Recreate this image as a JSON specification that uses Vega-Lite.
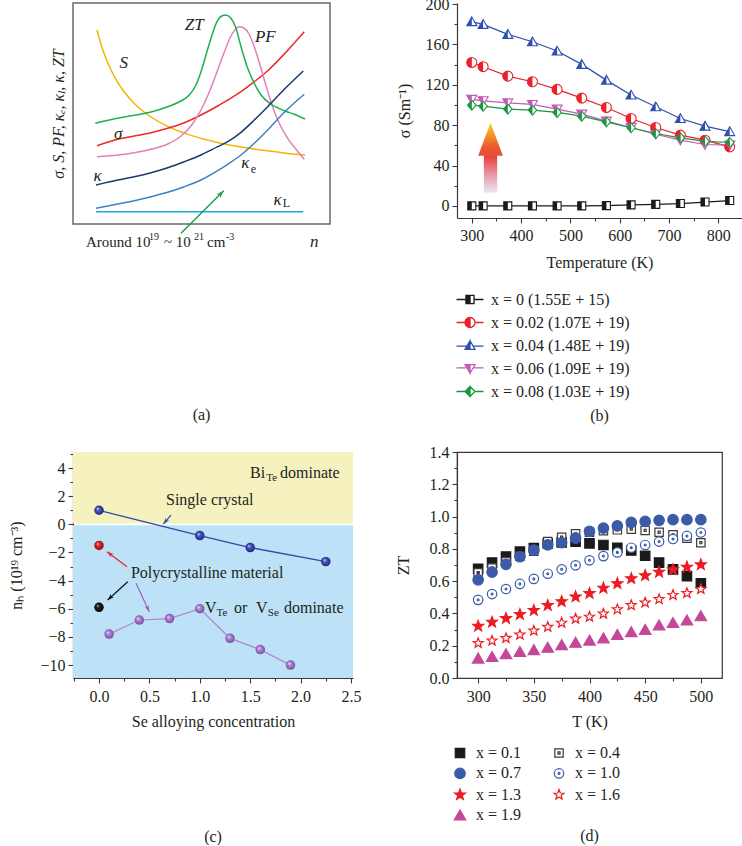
{
"$schema": "https://vega.github.io/schema/vega-lite/v6.json",
"background": "white",
"padding": {"left": 8, "top": -4, "right": 0, "bottom": 0},
"columns": 2,
"spacing": {"row": 228, "column": 104},
"bounds": "flush",
"align": "each",
"resolve": {"scale": {"color": "independent", "fill": "independent", "stroke": "independent", "shape": "independent"}, "legend": {"color": "independent", "fill": "independent", "stroke": "independent", "shape": "independent"}},
"config": {
 "font": "Liberation Serif",
 "view": {"stroke": null},
 "axis": {"labelFont": "Liberation Serif", "titleFont": "Liberation Serif", "labelFontSize": 16, "titleFontSize": 16, "titleFontWeight": "normal", "labelColor": "#231f20", "titleColor": "#231f20", "domainColor": "#3a3a3a", "tickColor": "#3a3a3a", "grid": false, "tickSize": 5, "labelPadding": 3, "domainWidth": 1.2, "tickWidth": 1.1},
 "legend": {"labelFont": "Liberation Serif", "labelFontSize": 16, "labelColor": "#231f20", "padding": 0},
 "title": {"font": "Liberation Serif", "fontSize": 16, "fontWeight": "normal", "color": "#231f20"},
 "text": {"font": "Liberation Serif", "fontSize": 16, "color": "#231f20", "baseline": "middle"},
 "point": {"opacity": 1}
},
"datasets": {
 "a_curves": [
  {"c":"S","x":24.0,"y":194.0},{"c":"S","x":28.0,"y":179.8},{"c":"S","x":33.0,"y":165.5},{"c":"S","x":38.0,"y":154.0},{"c":"S","x":44.7,"y":141.7},{"c":"S","x":53.0,"y":129.8},{"c":"S","x":61.3,"y":120.5},{"c":"S","x":78.0,"y":107.0},{"c":"S","x":94.7,"y":97.7},{"c":"S","x":119.7,"y":88.1},{"c":"S","x":144.7,"y":81.5},{"c":"S","x":178.0,"y":75.4},{"c":"S","x":211.3,"y":71.1},{"c":"S","x":232.0,"y":69.0},
  {"c":"σ","x":24.0,"y":78.3},{"c":"σ","x":44.7,"y":84.7},{"c":"σ","x":61.3,"y":88.0},{"c":"σ","x":78.0,"y":91.3},{"c":"σ","x":94.7,"y":95.7},{"c":"σ","x":111.3,"y":101.3},{"c":"σ","x":128.0,"y":109.0},{"c":"σ","x":144.7,"y":118.0},{"c":"σ","x":154.7,"y":124.0},{"c":"σ","x":168.0,"y":132.3},{"c":"σ","x":181.3,"y":142.3},{"c":"σ","x":194.7,"y":153.3},{"c":"σ","x":211.3,"y":170.0},{"c":"σ","x":231.3,"y":192.3},
  {"c":"PF","x":24.0,"y":67.3},{"c":"PF","x":44.7,"y":69.0},{"c":"PF","x":61.3,"y":71.3},{"c":"PF","x":78.0,"y":74.7},{"c":"PF","x":94.7,"y":80.0},{"c":"PF","x":108.0,"y":88.0},{"c":"PF","x":118.0,"y":98.0},{"c":"PF","x":128.0,"y":114.0},{"c":"PF","x":136.3,"y":132.0},{"c":"PF","x":144.7,"y":154.0},{"c":"PF","x":151.3,"y":172.0},{"c":"PF","x":158.0,"y":188.0},{"c":"PF","x":163.0,"y":195.5},{"c":"PF","x":166.3,"y":197.3},{"c":"PF","x":171.0,"y":196.0},{"c":"PF","x":176.0,"y":190.0},{"c":"PF","x":181.0,"y":178.0},{"c":"PF","x":188.0,"y":155.7},{"c":"PF","x":196.3,"y":127.3},{"c":"PF","x":204.7,"y":104.0},{"c":"PF","x":214.7,"y":85.7},{"c":"PF","x":223.0,"y":74.7},{"c":"PF","x":231.3,"y":64.7},
  {"c":"ZT","x":22.3,"y":100.7},{"c":"ZT","x":44.7,"y":105.7},{"c":"ZT","x":61.3,"y":108.7},{"c":"ZT","x":78.0,"y":112.0},{"c":"ZT","x":94.7,"y":117.3},{"c":"ZT","x":108.0,"y":123.0},{"c":"ZT","x":116.3,"y":129.0},{"c":"ZT","x":123.0,"y":139.0},{"c":"ZT","x":128.0,"y":152.3},{"c":"ZT","x":133.0,"y":169.0},{"c":"ZT","x":138.0,"y":185.7},{"c":"ZT","x":144.0,"y":202.3},{"c":"ZT","x":148.7,"y":208.0},{"c":"ZT","x":153.0,"y":209.0},{"c":"ZT","x":158.0,"y":205.7},{"c":"ZT","x":163.0,"y":195.7},{"c":"ZT","x":168.0,"y":177.3},{"c":"ZT","x":174.7,"y":155.7},{"c":"ZT","x":181.3,"y":140.7},{"c":"ZT","x":188.0,"y":129.0},{"c":"ZT","x":198.0,"y":120.0},{"c":"ZT","x":211.3,"y":113.3},{"c":"ZT","x":221.3,"y":109.7},{"c":"ZT","x":232.0,"y":105.0},
  {"c":"κ","x":23.0,"y":39.0},{"c":"κ","x":44.7,"y":44.0},{"c":"κ","x":61.3,"y":47.3},{"c":"κ","x":78.0,"y":51.3},{"c":"κ","x":94.7,"y":56.3},{"c":"κ","x":111.3,"y":62.3},{"c":"κ","x":128.0,"y":69.0},{"c":"κ","x":144.7,"y":77.3},{"c":"κ","x":154.7,"y":82.3},{"c":"κ","x":168.0,"y":91.7},{"c":"κ","x":181.3,"y":104.0},{"c":"κ","x":194.7,"y":117.3},{"c":"κ","x":211.3,"y":134.7},{"c":"κ","x":230.3,"y":153.0},
  {"c":"κe","x":23.0,"y":15.7},{"c":"κe","x":44.7,"y":20.0},{"c":"κe","x":61.3,"y":23.3},{"c":"κe","x":78.0,"y":27.3},{"c":"κe","x":94.7,"y":31.7},{"c":"κe","x":111.3,"y":37.3},{"c":"κe","x":128.0,"y":44.0},{"c":"κe","x":144.7,"y":53.3},{"c":"κe","x":154.7,"y":59.7},{"c":"κe","x":168.0,"y":69.0},{"c":"κe","x":181.3,"y":80.7},{"c":"κe","x":194.7,"y":94.0},{"c":"κe","x":211.3,"y":111.7},{"c":"κe","x":231.3,"y":129.7},
  {"c":"κL","x":23.0,"y":12.3},{"c":"κL","x":230.3,"y":12.3}
 ],
 "a_text": [
  {"t":"ZT","x":121.3,"y":199,"r":"lab"},{"t":"PF","x":192.3,"y":186.7,"r":"lab"},{"t":"S","x":50.7,"y":160.7,"r":"lab"},{"t":"σ","x":45.3,"y":89.7,"r":"lab"},{"t":"κ","x":24.7,"y":48,"r":"lab"},{"t":"κ","x":172.3,"y":60.7,"r":"lab"},{"t":"κ","x":204.7,"y":24,"r":"lab"},{"t":"n","x":241.3,"y":-17.7,"r":"lab"},
  {"t":"e","x":180.3,"y":55,"r":"sub"},{"t":"L","x":213.5,"y":20.7,"r":"sub"},
  {"t":"Around 10","x":13,"y":-17.7,"r":"cap"},{"t":"~ 10","x":91,"y":-17.7,"r":"cap"},{"t":"cm","x":134,"y":-17.7,"r":"cap"},
  {"t":"19","x":76,"y":-13,"r":"sup"},{"t":"21","x":121,"y":-13,"r":"sup"},{"t":"-3","x":153,"y":-13,"r":"sup"}
 ],
 "a_arrow": [{"x":150.7,"y":33.3,"x2":108,"y2":-9.3}],
 "b": [
  {"s":"x = 0 (1.55E + 15)","T":300,"v":0},{"s":"x = 0 (1.55E + 15)","T":323,"v":0},{"s":"x = 0 (1.55E + 15)","T":373,"v":0},{"s":"x = 0 (1.55E + 15)","T":423,"v":0},{"s":"x = 0 (1.55E + 15)","T":473,"v":0},{"s":"x = 0 (1.55E + 15)","T":523,"v":0},{"s":"x = 0 (1.55E + 15)","T":573,"v":0.3},{"s":"x = 0 (1.55E + 15)","T":623,"v":1.0},{"s":"x = 0 (1.55E + 15)","T":673,"v":1.5},{"s":"x = 0 (1.55E + 15)","T":723,"v":2.3},{"s":"x = 0 (1.55E + 15)","T":773,"v":3.8},{"s":"x = 0 (1.55E + 15)","T":823,"v":5.3},
  {"s":"x = 0.02 (1.07E + 19)","T":300,"v":142.1},{"s":"x = 0.02 (1.07E + 19)","T":323,"v":137.9},{"s":"x = 0.02 (1.07E + 19)","T":373,"v":128.6},{"s":"x = 0.02 (1.07E + 19)","T":423,"v":123.0},{"s":"x = 0.02 (1.07E + 19)","T":473,"v":115.4},{"s":"x = 0.02 (1.07E + 19)","T":523,"v":106.8},{"s":"x = 0.02 (1.07E + 19)","T":573,"v":97.5},{"s":"x = 0.02 (1.07E + 19)","T":623,"v":86.6},{"s":"x = 0.02 (1.07E + 19)","T":673,"v":77.7},{"s":"x = 0.02 (1.07E + 19)","T":723,"v":70.1},{"s":"x = 0.02 (1.07E + 19)","T":773,"v":65.1},{"s":"x = 0.02 (1.07E + 19)","T":823,"v":58.5},
  {"s":"x = 0.04 (1.48E + 19)","T":300,"v":182.5},{"s":"x = 0.04 (1.48E + 19)","T":323,"v":179.8},{"s":"x = 0.04 (1.48E + 19)","T":373,"v":169.9},{"s":"x = 0.04 (1.48E + 19)","T":423,"v":162.6},{"s":"x = 0.04 (1.48E + 19)","T":473,"v":153.4},{"s":"x = 0.04 (1.48E + 19)","T":523,"v":140.2},{"s":"x = 0.04 (1.48E + 19)","T":573,"v":124.6},{"s":"x = 0.04 (1.48E + 19)","T":623,"v":109.8},{"s":"x = 0.04 (1.48E + 19)","T":673,"v":98.2},{"s":"x = 0.04 (1.48E + 19)","T":723,"v":86.6},{"s":"x = 0.04 (1.48E + 19)","T":773,"v":79.0},{"s":"x = 0.04 (1.48E + 19)","T":823,"v":73.6},
  {"s":"x = 0.06 (1.09E + 19)","T":300,"v":105.5},{"s":"x = 0.06 (1.09E + 19)","T":323,"v":104.1},{"s":"x = 0.06 (1.09E + 19)","T":373,"v":102.1},{"s":"x = 0.06 (1.09E + 19)","T":423,"v":100.5},{"s":"x = 0.06 (1.09E + 19)","T":473,"v":95.9},{"s":"x = 0.06 (1.09E + 19)","T":523,"v":90.9},{"s":"x = 0.06 (1.09E + 19)","T":573,"v":84.0},{"s":"x = 0.06 (1.09E + 19)","T":623,"v":77.7},{"s":"x = 0.06 (1.09E + 19)","T":673,"v":71.0},{"s":"x = 0.06 (1.09E + 19)","T":723,"v":65.2},{"s":"x = 0.06 (1.09E + 19)","T":773,"v":60.8},{"s":"x = 0.06 (1.09E + 19)","T":823,"v":60.2},
  {"s":"x = 0.08 (1.03E + 19)","T":300,"v":99.8},{"s":"x = 0.08 (1.03E + 19)","T":323,"v":98.8},{"s":"x = 0.08 (1.03E + 19)","T":373,"v":95.9},{"s":"x = 0.08 (1.03E + 19)","T":423,"v":94.9},{"s":"x = 0.08 (1.03E + 19)","T":473,"v":92.6},{"s":"x = 0.08 (1.03E + 19)","T":523,"v":88.9},{"s":"x = 0.08 (1.03E + 19)","T":573,"v":83.3},{"s":"x = 0.08 (1.03E + 19)","T":623,"v":77.4},{"s":"x = 0.08 (1.03E + 19)","T":673,"v":71.7},{"s":"x = 0.08 (1.03E + 19)","T":723,"v":67.4},{"s":"x = 0.08 (1.03E + 19)","T":773,"v":64.0},{"s":"x = 0.08 (1.03E + 19)","T":823,"v":62.8}
 ],
 "c_bands": [{"b":"Bi","x":-0.258,"x2":2.52,"y":0.06,"y2":5.14},{"b":"V","x":-0.258,"x2":2.52,"y":-10.92,"y2":-0.06}],
 "c_pts": [
  {"g":"single","x":0,"y":1.0},{"g":"single","x":1.0,"y":-0.8},{"g":"single","x":1.5,"y":-1.65},{"g":"single","x":2.25,"y":-2.65},
  {"g":"red","x":0,"y":-1.5},{"g":"black","x":0,"y":-5.9},
  {"g":"poly","x":0.1,"y":-7.8},{"g":"poly","x":0.4,"y":-6.8},{"g":"poly","x":0.7,"y":-6.7},{"g":"poly","x":1.0,"y":-6.0},{"g":"poly","x":1.3,"y":-8.1},{"g":"poly","x":1.6,"y":-8.9},{"g":"poly","x":1.9,"y":-10.0}
 ],
 "c_arrows": [
  {"a":"blue","x":0.638,"y":0.02,"x2":0.714,"y2":0.66},
  {"a":"red","x":0.079,"y":-1.95,"x2":0.278,"y2":-3.01},
  {"a":"black","x":0.086,"y":-5.38,"x2":0.285,"y2":-4.08},
  {"a":"purple","x":0.499,"y":-6.21,"x2":0.367,"y2":-4.19}
 ],
 "c_text": [
  {"t":"Single crystal","x":0.665,"y":1.73,"r":"main"},
  {"t":"Polycrystalline material","x":0.317,"y":-3.46,"r":"main"},
  {"t":"Bi","x":1.498,"y":3.64,"r":"main"},{"t":"Te","x":1.66,"y":3.29,"r":"sub"},{"t":"dominate","x":1.796,"y":3.64,"r":"main"},
  {"t":"V","x":1.052,"y":-5.95,"r":"main"},{"t":"Te","x":1.165,"y":-6.31,"r":"sub"},{"t":"or","x":1.339,"y":-5.95,"r":"main"},{"t":"V","x":1.558,"y":-5.95,"r":"main"},{"t":"Se","x":1.675,"y":-6.31,"r":"sub"},{"t":"dominate","x":1.835,"y":-5.95,"r":"main"}
 ],
 "d": [
  {"s":"x = 0.1","T":300,"zt":0.677},{"s":"x = 0.1","T":312.5,"zt":0.715},{"s":"x = 0.1","T":325,"zt":0.752},{"s":"x = 0.1","T":337.5,"zt":0.783},{"s":"x = 0.1","T":350,"zt":0.805},{"s":"x = 0.1","T":362.5,"zt":0.833},{"s":"x = 0.1","T":375,"zt":0.840},{"s":"x = 0.1","T":387.5,"zt":0.845},{"s":"x = 0.1","T":400,"zt":0.834},{"s":"x = 0.1","T":412.5,"zt":0.824},{"s":"x = 0.1","T":425,"zt":0.807},{"s":"x = 0.1","T":437.5,"zt":0.790},{"s":"x = 0.1","T":450,"zt":0.757},{"s":"x = 0.1","T":462.5,"zt":0.715},{"s":"x = 0.1","T":475,"zt":0.673},{"s":"x = 0.1","T":487.5,"zt":0.631},{"s":"x = 0.1","T":500,"zt":0.587},
  {"s":"x = 0.4","T":300,"zt":0.652},{"s":"x = 0.4","T":312.5,"zt":0.681},{"s":"x = 0.4","T":325,"zt":0.719},{"s":"x = 0.4","T":337.5,"zt":0.755},{"s":"x = 0.4","T":350,"zt":0.786},{"s":"x = 0.4","T":362.5,"zt":0.845},{"s":"x = 0.4","T":375,"zt":0.872},{"s":"x = 0.4","T":387.5,"zt":0.893},{"s":"x = 0.4","T":400,"zt":0.903},{"s":"x = 0.4","T":412.5,"zt":0.912},{"s":"x = 0.4","T":425,"zt":0.918},{"s":"x = 0.4","T":437.5,"zt":0.922},{"s":"x = 0.4","T":450,"zt":0.914},{"s":"x = 0.4","T":462.5,"zt":0.903},{"s":"x = 0.4","T":475,"zt":0.887},{"s":"x = 0.4","T":487.5,"zt":0.866},{"s":"x = 0.4","T":500,"zt":0.838},
  {"s":"x = 0.7","T":300,"zt":0.608},{"s":"x = 0.7","T":312.5,"zt":0.656},{"s":"x = 0.7","T":325,"zt":0.704},{"s":"x = 0.7","T":337.5,"zt":0.751},{"s":"x = 0.7","T":350,"zt":0.793},{"s":"x = 0.7","T":362.5,"zt":0.825},{"s":"x = 0.7","T":375,"zt":0.838},{"s":"x = 0.7","T":387.5,"zt":0.866},{"s":"x = 0.7","T":400,"zt":0.908},{"s":"x = 0.7","T":412.5,"zt":0.929},{"s":"x = 0.7","T":425,"zt":0.943},{"s":"x = 0.7","T":437.5,"zt":0.964},{"s":"x = 0.7","T":450,"zt":0.970},{"s":"x = 0.7","T":462.5,"zt":0.977},{"s":"x = 0.7","T":475,"zt":0.981},{"s":"x = 0.7","T":487.5,"zt":0.981},{"s":"x = 0.7","T":500,"zt":0.981},
  {"s":"x = 1.0","T":300,"zt":0.484},{"s":"x = 1.0","T":312.5,"zt":0.520},{"s":"x = 1.0","T":325,"zt":0.551},{"s":"x = 1.0","T":337.5,"zt":0.583},{"s":"x = 1.0","T":350,"zt":0.614},{"s":"x = 1.0","T":362.5,"zt":0.646},{"s":"x = 1.0","T":375,"zt":0.673},{"s":"x = 1.0","T":387.5,"zt":0.698},{"s":"x = 1.0","T":400,"zt":0.729},{"s":"x = 1.0","T":412.5,"zt":0.755},{"s":"x = 1.0","T":425,"zt":0.778},{"s":"x = 1.0","T":437.5,"zt":0.807},{"s":"x = 1.0","T":450,"zt":0.824},{"s":"x = 1.0","T":462.5,"zt":0.845},{"s":"x = 1.0","T":475,"zt":0.861},{"s":"x = 1.0","T":487.5,"zt":0.880},{"s":"x = 1.0","T":500,"zt":0.901},
  {"s":"x = 1.3","T":300,"zt":0.321},{"s":"x = 1.3","T":312.5,"zt":0.346},{"s":"x = 1.3","T":325,"zt":0.369},{"s":"x = 1.3","T":337.5,"zt":0.394},{"s":"x = 1.3","T":350,"zt":0.419},{"s":"x = 1.3","T":362.5,"zt":0.450},{"s":"x = 1.3","T":375,"zt":0.474},{"s":"x = 1.3","T":387.5,"zt":0.503},{"s":"x = 1.3","T":400,"zt":0.524},{"s":"x = 1.3","T":412.5,"zt":0.557},{"s":"x = 1.3","T":425,"zt":0.585},{"s":"x = 1.3","T":437.5,"zt":0.616},{"s":"x = 1.3","T":450,"zt":0.635},{"s":"x = 1.3","T":462.5,"zt":0.656},{"s":"x = 1.3","T":475,"zt":0.671},{"s":"x = 1.3","T":487.5,"zt":0.687},{"s":"x = 1.3","T":500,"zt":0.702},
  {"s":"x = 1.6","T":300,"zt":0.216},{"s":"x = 1.6","T":312.5,"zt":0.231},{"s":"x = 1.6","T":325,"zt":0.247},{"s":"x = 1.6","T":337.5,"zt":0.268},{"s":"x = 1.6","T":350,"zt":0.293},{"s":"x = 1.6","T":362.5,"zt":0.316},{"s":"x = 1.6","T":375,"zt":0.342},{"s":"x = 1.6","T":387.5,"zt":0.367},{"s":"x = 1.6","T":400,"zt":0.379},{"s":"x = 1.6","T":412.5,"zt":0.398},{"s":"x = 1.6","T":425,"zt":0.425},{"s":"x = 1.6","T":437.5,"zt":0.451},{"s":"x = 1.6","T":450,"zt":0.467},{"s":"x = 1.6","T":462.5,"zt":0.488},{"s":"x = 1.6","T":475,"zt":0.514},{"s":"x = 1.6","T":487.5,"zt":0.526},{"s":"x = 1.6","T":500,"zt":0.551},
  {"s":"x = 1.9","T":300,"zt":0.122},{"s":"x = 1.9","T":312.5,"zt":0.132},{"s":"x = 1.9","T":325,"zt":0.149},{"s":"x = 1.9","T":337.5,"zt":0.163},{"s":"x = 1.9","T":350,"zt":0.174},{"s":"x = 1.9","T":362.5,"zt":0.189},{"s":"x = 1.9","T":375,"zt":0.205},{"s":"x = 1.9","T":387.5,"zt":0.220},{"s":"x = 1.9","T":400,"zt":0.233},{"s":"x = 1.9","T":412.5,"zt":0.247},{"s":"x = 1.9","T":425,"zt":0.268},{"s":"x = 1.9","T":437.5,"zt":0.285},{"s":"x = 1.9","T":450,"zt":0.300},{"s":"x = 1.9","T":462.5,"zt":0.327},{"s":"x = 1.9","T":475,"zt":0.342},{"s":"x = 1.9","T":487.5,"zt":0.358},{"s":"x = 1.9","T":500,"zt":0.384}
 ]
},
"concat": [
 {
  "width": 257, "height": 221,
  "view": {"stroke": "#6a6a6a", "strokeWidth": 1.5},
  "title": {"text": "(a)", "orient": "bottom", "offset": 157, "frame": "group", "anchor": "middle"},
  "encoding": {
   "x": {"field": "x", "type": "quantitative", "scale": {"domain": [0, 257], "nice": false, "zero": false}, "axis": null},
   "y": {"field": "y", "type": "quantitative", "scale": {"domain": [0, 221], "nice": false, "zero": false}, "axis": {"title": "σ, S, PF, κₑ, κₗ, κ, ZT", "titleFontStyle": "italic", "labels": false, "ticks": false, "domain": false, "titlePadding": 7}}
  },
  "layer": [
   {"data": {"name": "a_curves"}, "mark": {"type": "line", "interpolate": "monotone", "strokeWidth": 1.5},
    "encoding": {"color": {"field": "c", "type": "nominal", "scale": {"domain": ["S","σ","PF","ZT","κ","κe","κL"], "range": ["#f5b400","#ec2a26","#e27fb9","#20b04c","#17396d","#3f81c6","#1ba8e8"]}, "legend": null}}},
   {"data": {"values": [{}]}, "mark": {"type": "rule", "color": "#a8d05c", "strokeDash": [6, 4], "strokeWidth": 1.6},
    "encoding": {"x": {"datum": 154, "type": "quantitative", "axis": null}, "y": {"datum": 0, "type": "quantitative", "axis": {"title": "σ, S, PF, κₑ, κₗ, κ, ZT", "titleFontStyle": "italic", "labels": false, "ticks": false, "domain": false, "titlePadding": 7}}, "y2": {"datum": 221}}},
   {"data": {"name": "a_arrow"}, "mark": {"type": "rule", "color": "#22a04a", "strokeWidth": 1.5},
    "encoding": {"x2": {"field": "x2"}, "y2": {"field": "y2"}}},
   {"data": {"name": "a_arrow"}, "mark": {"type": "point", "filled": true, "shape": "M0,0L0.55,1.6L0,1.2L-0.55,1.6Z", "size": 90, "angle": 45, "color": "#22a04a"}},
   {"data": {"name": "a_text"}, "transform": [{"filter": "datum.r == 'lab'"}], "mark": {"type": "text", "fontStyle": "italic", "fontSize": 17, "align": "center"}, "encoding": {"text": {"field": "t"}}},
   {"data": {"name": "a_text"}, "transform": [{"filter": "datum.r == 'sub'"}], "mark": {"type": "text", "fontSize": 12, "align": "center"}, "encoding": {"text": {"field": "t"}}},
   {"data": {"name": "a_text"}, "transform": [{"filter": "datum.r == 'cap'"}], "mark": {"type": "text", "fontSize": 15, "align": "left"}, "encoding": {"text": {"field": "t"}}},
   {"data": {"name": "a_text"}, "transform": [{"filter": "datum.r == 'sup'"}], "mark": {"type": "text", "fontSize": 10, "align": "left"}, "encoding": {"text": {"field": "t"}}}
  ]
 },
 {
  "width": 285, "height": 215,
  "title": {"text": "(b)", "orient": "bottom", "offset": 8, "frame": "group", "anchor": "middle"},
  "data": {"name": "b"},
  "encoding": {
   "x": {"field": "T", "type": "quantitative", "scale": {"domain": [270, 848], "nice": false, "zero": false}, "axis": {"title": "Temperature (K)", "values": [300,350,400,450,500,550,600,650,700,750,800], "labelExpr": "datum.value % 100 == 0 ? datum.label : ''", "tickSize": {"condition": {"test": "datum.value % 100 != 0", "value": 3}, "value": 5}, "labelPadding": 4, "titlePadding": 11}},
   "y": {"field": "v", "type": "quantitative", "scale": {"domain": [-12, 201], "nice": false, "zero": false}, "axis": {"title": "σ (Sm⁻¹)", "values": [0,20,40,60,80,100,120,140,160,180,200], "labelExpr": "datum.value % 40 == 0 ? datum.label : ''", "tickSize": {"condition": {"test": "datum.value % 40 != 0", "value": 3}, "value": 5}, "titlePadding": 13}}
  },
  "resolve": {"scale": {"color": "independent", "fill": "independent", "stroke": "independent", "shape": "independent"}},
  "layer": [
   {"mark": {"type": "line", "strokeWidth": 1.2},
    "encoding": {"color": {"field": "s", "type": "nominal", "scale": {"domain": ["x = 0 (1.55E + 15)","x = 0.02 (1.07E + 19)","x = 0.04 (1.48E + 19)","x = 0.06 (1.09E + 19)","x = 0.08 (1.03E + 19)"], "range": ["#1a1a1a","#e8212b","#2f4fae","#c25bb8","#17993b"]}, "legend": null}}},
   {"mark": {"type": "point", "filled": true, "opacity": 1, "size": 100, "fill": "white", "strokeWidth": 1.1},
    "encoding": {
     "stroke": {"field": "s", "type": "nominal", "scale": {"domain": ["x = 0 (1.55E + 15)","x = 0.02 (1.07E + 19)","x = 0.04 (1.48E + 19)","x = 0.06 (1.09E + 19)","x = 0.08 (1.03E + 19)"], "range": ["#1a1a1a","#e8212b","#2f4fae","#c25bb8","#17993b"]}, "legend": null},
     "shape": {"field": "s", "type": "nominal", "scale": {"domain": ["x = 0 (1.55E + 15)","x = 0.02 (1.07E + 19)","x = 0.04 (1.48E + 19)","x = 0.06 (1.09E + 19)","x = 0.08 (1.03E + 19)"], "range": ["M-0.8,-0.8H0.8V0.8H-0.8Z","M1,0A1,1,0,1,1,-1,0A1,1,0,1,1,1,0Z","M0,-0.95L1,0.8H-1Z","M0,0.95L1,-0.8H-1Z","M0,-1L0.85,0L0,1L-0.85,0Z"]}, "legend": null}}},
   {"mark": {"type": "point", "filled": true, "opacity": 1, "size": 100},
    "encoding": {
     "fill": {"field": "s", "type": "nominal", "scale": {"domain": ["x = 0 (1.55E + 15)","x = 0.02 (1.07E + 19)","x = 0.04 (1.48E + 19)","x = 0.06 (1.09E + 19)","x = 0.08 (1.03E + 19)"], "range": ["#1a1a1a","#e8212b","#2f4fae","#c25bb8","#17993b"]}, "legend": null},
     "shape": {"field": "s", "type": "nominal", "scale": {"domain": ["x = 0 (1.55E + 15)","x = 0.02 (1.07E + 19)","x = 0.04 (1.48E + 19)","x = 0.06 (1.09E + 19)","x = 0.08 (1.03E + 19)"], "range": ["M-0.8,-0.8H0V0.8H-0.8Z","M0,-1A1,1,0,0,0,0,1Z","M0,-0.95V0.8H-1Z","M0,0.95V-0.8H-1Z","M0,-1V1L-0.85,0Z"]}, "legend": null}}},
   {"transform": [{"filter": "false"}],
    "mark": {"type": "point", "filled": false, "opacity": 1, "strokeWidth": 1.3},
    "encoding": {
     "color": {"field": "s", "type": "nominal", "scale": {"domain": ["x = 0 (1.55E + 15)","x = 0.02 (1.07E + 19)","x = 0.04 (1.48E + 19)","x = 0.06 (1.09E + 19)","x = 0.08 (1.03E + 19)"], "range": ["#1a1a1a","#e8212b","#2f4fae","#c25bb8","#17993b"]}, "legend": {"orient": "none", "legendX": -1.5, "legendY": 282, "title": null, "symbolSize": 729, "symbolStrokeWidth": 1.3, "labelOffset": 6.5, "rowPadding": 0, "padding": 0}},
     "fill": {"field": "s", "type": "nominal", "scale": {"domain": ["x = 0 (1.55E + 15)","x = 0.02 (1.07E + 19)","x = 0.04 (1.48E + 19)","x = 0.06 (1.09E + 19)","x = 0.08 (1.03E + 19)"], "range": ["#1a1a1a","#e8212b","#2f4fae","#c25bb8","#17993b"]}, "legend": {"orient": "none", "legendX": -1.5, "legendY": 282, "title": null, "symbolSize": 729, "symbolStrokeWidth": 1.3, "labelOffset": 6.5, "rowPadding": 0, "padding": 0}},
     "shape": {"field": "s", "type": "nominal", "scale": {"domain": ["x = 0 (1.55E + 15)","x = 0.02 (1.07E + 19)","x = 0.04 (1.48E + 19)","x = 0.06 (1.09E + 19)","x = 0.08 (1.03E + 19)"], "range": ["M-1,0H-0.3M0.3,0H1M-0.3,-0.3H0V0.3H-0.3ZM0,-0.3H0.3V0.3H0H0.3V-0.3Z","M-1,0H-0.37M0.37,0H1M0,-0.37A0.37,0.37,0,0,0,0,0.37ZM0,-0.37A0.37,0.37,0,0,1,0,0.37A0.37,0.37,0,0,0,0,-0.37","M-1,0.05H-0.235M0.235,0.05H1M0,-0.35V0.28H-0.37ZM0,-0.35L0.37,0.28H0H0.37Z","M-1,-0.05H-0.235M0.235,-0.05H1M0,0.35V-0.28H-0.37ZM0,0.35L0.37,-0.28H0H0.37Z","M-1,0H-0.37M0.37,0H1M0,-0.37V0.37L-0.37,0ZM0,-0.37L0.37,0L0,0.37L0.37,0Z"]}, "legend": {"orient": "none", "legendX": -1.5, "legendY": 282, "title": null, "symbolSize": 729, "symbolStrokeWidth": 1.3, "labelOffset": 6.5, "rowPadding": 0, "padding": 0}}}},
   {"data": {"values": [{"T": 338, "v": 47.8}]},
    "mark": {"type": "point", "filled": true, "opacity": 1, "size": 4900, "strokeWidth": 0, "shape": "M0,-1L0.354,-0.057H0.19V1H-0.19V-0.057H-0.354Z",
     "fill": {"gradient": "linear", "x1": 0, "y1": 1, "x2": 0, "y2": 0, "stops": [{"offset": 0, "color": "#ebe8f6"}, {"offset": 0.28, "color": "#e9909f"}, {"offset": 0.5, "color": "#e8483c"}, {"offset": 0.66, "color": "#ed5a2d"}, {"offset": 0.82, "color": "#f2922a"}, {"offset": 1, "color": "#f8d81c"}]}}}
  ]
 },
 {
  "width": 280, "height": 226,
  "title": {"text": "(c)", "orient": "bottom", "offset": 100, "frame": "group", "anchor": "middle"},
  "encoding": {
   "x": {"field": "x", "type": "quantitative", "scale": {"domain": [-0.258, 2.52], "nice": false, "zero": false}, "axis": {"title": "Se alloying concentration", "values": [-0.25,0,0.25,0.5,0.75,1,1.25,1.5,1.75,2,2.25,2.5], "format": ".1f", "labelExpr": "datum.value >= 0 && round(datum.value*4) % 2 == 0 ? datum.label : ''", "tickSize": {"condition": {"test": "round(datum.value*4) % 2 != 0", "value": 3}, "value": 5}, "labelPadding": 5, "titlePadding": 9}},
   "y": {"field": "y", "type": "quantitative", "scale": {"domain": [-10.92, 5.14], "nice": false, "zero": false}, "axis": {"title": "nₕ (10¹⁹ cm⁻³)", "values": [-10,-9,-8,-7,-6,-5,-4,-3,-2,-1,0,1,2,3,4,5], "labelExpr": "datum.value % 2 == 0 ? datum.label : ''", "tickSize": {"condition": {"test": "datum.value % 2 != 0", "value": 3}, "value": 5}, "titlePadding": 15}}
  },
  "resolve": {"scale": {"color": "independent"}},
  "layer": [
   {"data": {"name": "c_bands"}, "mark": {"type": "rect"},
    "encoding": {"x2": {"field": "x2"}, "y2": {"field": "y2"},
     "color": {"field": "b", "type": "nominal", "scale": {"domain": ["Bi","V"], "range": ["#f6f2c0","#bde1f6"]}, "legend": null}}},
   {"data": {"name": "c_pts"}, "transform": [{"filter": {"field": "g", "oneOf": ["single","poly"]}}], "mark": {"type": "line", "strokeWidth": 1.3},
    "encoding": {"color": {"field": "g", "type": "nominal", "scale": {"domain": ["single","poly"], "range": ["#2e4aa8","#b08bd6"]}, "legend": null}}},
   {"data": {"name": "c_arrows"}, "mark": {"type": "rule", "strokeWidth": 1.2},
    "encoding": {"x2": {"field": "x2"}, "y2": {"field": "y2"}, "color": {"field": "a", "type": "nominal", "scale": {"domain": ["blue","red","black","purple"], "range": ["#2e4aa8","#e8262b","#111111","#a05cc0"]}, "legend": null}}},
   {"data": {"name": "c_arrows"}, "transform": [{"filter": "datum.a == 'blue'"}], "mark": {"type": "point", "filled": true, "shape": "M0,0L0.55,1.6L0,1.2L-0.55,1.6Z", "size": 64, "angle": 220.6, "color": "#2e4aa8"}},
   {"data": {"name": "c_arrows"}, "transform": [{"filter": "datum.a == 'red'"}], "mark": {"type": "point", "filled": true, "shape": "M0,0L0.55,1.6L0,1.2L-0.55,1.6Z", "size": 64, "angle": 306.9, "color": "#e8262b"}},
   {"data": {"name": "c_arrows"}, "transform": [{"filter": "datum.a == 'black'"}], "mark": {"type": "point", "filled": true, "shape": "M0,0L0.55,1.6L0,1.2L-0.55,1.6Z", "size": 64, "angle": 227.5, "color": "#111111"}},
   {"data": {"name": "c_arrows"}, "transform": [{"filter": "datum.a == 'purple'"}], "mark": {"type": "point", "filled": true, "shape": "M0,0L0.55,1.6L0,1.2L-0.55,1.6Z", "size": 64, "angle": 154.9, "color": "#a05cc0"}},
   {"data": {"name": "c_pts"}, "transform": [{"filter": "datum.g == 'single'"}], "mark": {"type": "point", "filled": true, "size": 90, "strokeWidth": 0,
    "fill": {"gradient": "radial", "x1": 0.35, "y1": 0.32, "r1": 0, "x2": 0.5, "y2": 0.5, "r2": 0.55, "stops": [{"offset": 0, "color": "#e8ecff"}, {"offset": 0.3, "color": "#4b5fc8"}, {"offset": 1, "color": "#17206e"}]}}},
   {"data": {"name": "c_pts"}, "transform": [{"filter": "datum.g == 'red'"}], "mark": {"type": "point", "filled": true, "size": 90, "strokeWidth": 0,
    "fill": {"gradient": "radial", "x1": 0.35, "y1": 0.32, "r1": 0, "x2": 0.5, "y2": 0.5, "r2": 0.55, "stops": [{"offset": 0, "color": "#ffe2e2"}, {"offset": 0.3, "color": "#e8262b"}, {"offset": 1, "color": "#8a0d10"}]}}},
   {"data": {"name": "c_pts"}, "transform": [{"filter": "datum.g == 'black'"}], "mark": {"type": "point", "filled": true, "size": 90, "strokeWidth": 0,
    "fill": {"gradient": "radial", "x1": 0.35, "y1": 0.32, "r1": 0, "x2": 0.5, "y2": 0.5, "r2": 0.55, "stops": [{"offset": 0, "color": "#c8c8c8"}, {"offset": 0.3, "color": "#222222"}, {"offset": 1, "color": "#000000"}]}}},
   {"data": {"name": "c_pts"}, "transform": [{"filter": "datum.g == 'poly'"}], "mark": {"type": "point", "filled": true, "size": 90, "strokeWidth": 0,
    "fill": {"gradient": "radial", "x1": 0.35, "y1": 0.32, "r1": 0, "x2": 0.5, "y2": 0.5, "r2": 0.55, "stops": [{"offset": 0, "color": "#f6ecff"}, {"offset": 0.3, "color": "#b48bdb"}, {"offset": 1, "color": "#6e4a98"}]}}},
   {"data": {"name": "c_text"}, "transform": [{"filter": "datum.r == 'main'"}], "mark": {"type": "text", "fontSize": 16, "align": "left"}, "encoding": {"text": {"field": "t"}}},
   {"data": {"name": "c_text"}, "transform": [{"filter": "datum.r == 'sub'"}], "mark": {"type": "text", "fontSize": 11, "align": "left"}, "encoding": {"text": {"field": "t"}}}
  ]
 },
 {
  "width": 265, "height": 226,
  "view": {"stroke": "#3a3a3a", "strokeWidth": 1.2},
  "title": {"text": "(d)", "orient": "bottom", "offset": 4, "frame": "group", "anchor": "middle"},
  "data": {"name": "d"},
  "mark": {"type": "point", "filled": false, "size": 110, "strokeWidth": 1.2, "opacity": 1},
  "encoding": {
   "x": {"field": "T", "type": "quantitative", "scale": {"domain": [281, 519], "nice": false, "zero": false}, "axis": {"title": "T (K)", "values": [300,325,350,375,400,425,450,475,500], "labelExpr": "datum.value % 50 == 0 ? datum.label : ''", "tickSize": {"condition": {"test": "datum.value % 50 != 0", "value": 3}, "value": 5}, "labelPadding": 5, "titlePadding": 9}},
   "y": {"field": "zt", "type": "quantitative", "scale": {"domain": [0, 1.4], "nice": false, "zero": false}, "axis": {"title": "ZT", "values": [0,0.1,0.2,0.3,0.4,0.5,0.6,0.7,0.8,0.9,1,1.1,1.2,1.3,1.4], "format": ".1f", "labelExpr": "round(datum.value*10) % 2 == 0 ? datum.label : ''", "tickSize": {"condition": {"test": "round(datum.value*10) % 2 != 0", "value": 3}, "value": 5}, "titlePadding": 18}},
   "color": {"field": "s", "type": "nominal", "scale": {"domain": ["x = 0.1","x = 0.7","x = 1.3","x = 1.9","x = 0.4","x = 1.0","x = 1.6"], "range": ["#1a1a1a","#3b5ba9","#ec1c24","#c4489a","#3a3a3a","#3b5ba9","#ec1c24"]}, "legend": {"orient": "none", "legendX": -5, "legendY": 293, "title": null, "columns": 2, "symbolSize": 110, "symbolStrokeWidth": 1.2, "labelOffset": 8, "rowPadding": 4.4, "columnPadding": 29, "padding": 0}},
   "fill": {"field": "s", "type": "nominal", "scale": {"domain": ["x = 0.1","x = 0.7","x = 1.3","x = 1.9","x = 0.4","x = 1.0","x = 1.6"], "range": ["#1a1a1a","#3b5ba9","#ec1c24","#c4489a","#ffffff","#ffffff","#ffffff"]}, "legend": {"orient": "none", "legendX": -5, "legendY": 293, "title": null, "columns": 2, "symbolSize": 110, "symbolStrokeWidth": 1.2, "labelOffset": 8, "rowPadding": 4.4, "columnPadding": 29, "padding": 0}},
   "shape": {"field": "s", "type": "nominal", "scale": {"domain": ["x = 0.1","x = 0.7","x = 1.3","x = 1.9","x = 0.4","x = 1.0","x = 1.6"], "range": ["M-0.9,-0.9H0.9V0.9H-0.9Z","circle","M0,-1.1L0.272,-0.374L1.046,-0.34L0.439,0.143L0.647,0.89L0,0.462L-0.647,0.89L-0.439,0.143L-1.046,-0.34L-0.272,-0.374Z","M0,-1L1.1,0.9H-1.1Z","M-0.8,-0.8H0.8V0.8H-0.8ZM-0.2,-0.2V0.2H0.2V-0.2Z","M0.9,0A0.9,0.9,0,1,1,-0.9,0A0.9,0.9,0,1,1,0.9,0ZM0.18,0A0.18,0.18,0,1,0,-0.18,0A0.18,0.18,0,1,0,0.18,0Z","M0,-1L0.247,-0.34L0.951,-0.309L0.399,0.13L0.588,0.809L0,0.42L-0.588,0.809L-0.399,0.13L-0.951,-0.309L-0.247,-0.34Z"]}, "legend": {"orient": "none", "legendX": -5, "legendY": 293, "title": null, "columns": 2, "symbolSize": 110, "symbolStrokeWidth": 1.2, "labelOffset": 8, "rowPadding": 4.4, "columnPadding": 29, "padding": 0}}
  }
 }
]
}
